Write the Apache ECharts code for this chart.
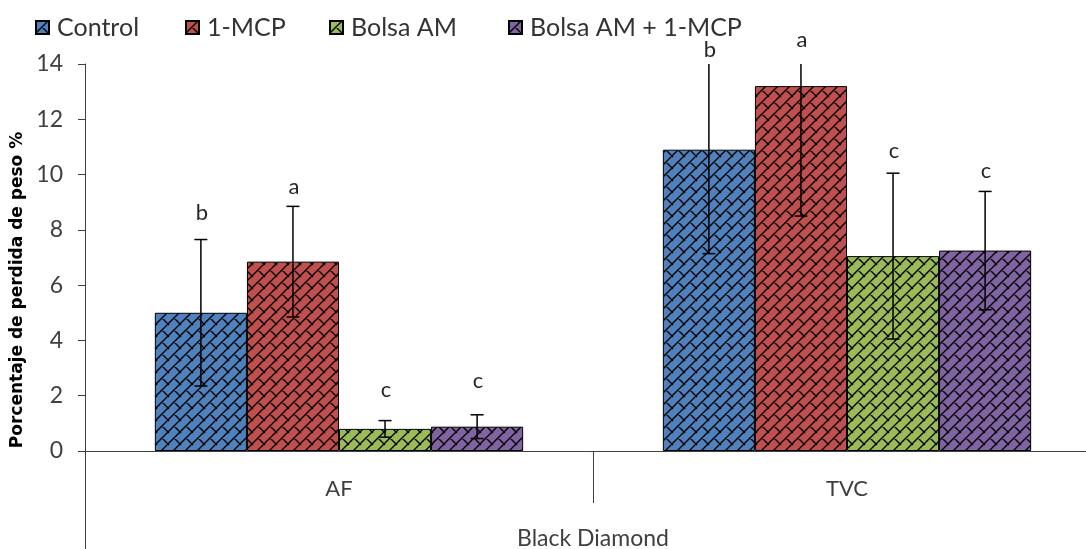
<!DOCTYPE html>
<html>
<head>
<meta charset="utf-8">
<script src="https://cdn.jsdelivr.net/npm/echarts@6/dist/echarts.min.js"></script>
<style>html,body{margin:0;padding:0;background:#fff;}#c{width:1086px;height:549px;}</style>
</head>
<body>
<div id="c"></div>
<script>
// ---- data ----
var categories = ['AF', 'TVC'];
var outerCategory = ['Black Diamond'];
var seriesNames = ['Control', '1-MCP', 'Bolsa AM', 'Bolsa AM + 1-MCP'];
var controlVals = [5.0, 10.9];
var mcpVals = [6.85, 13.2];
var bolsaVals = [0.8, 7.05];
var bolsaMcpVals = [0.88, 7.25];
var controlErr = [2.65, 3.76];
var mcpErr = [2.0, 4.7];
var bolsaErr = [0.3, 3.0];
var bolsaMcpErr = [0.43, 2.14];
var controlLetters = ['b', 'b'];
var mcpLetters = ['a', 'a'];
var bolsaLetters = ['c', 'c'];
var bolsaMcpLetters = ['c', 'c'];
// value at which each letter's baseline sits
var controlLetterPos = [8.36, 14.25];
var mcpLetterPos = [9.30, 14.62];
var bolsaLetterPos = [1.95, 10.6];
var bolsaMcpLetterPos = [2.28, 9.88];
var yTicks = {min: 0, max: 14, interval: 2};

// ---- styling ----
var colors = ['#4F81BD', '#C0504D', '#9BBB59', '#8064A2'];
var FONT = 'Lato';
var CAT_GAP = 0.275;

function makePattern(color) {
  var s = 12;
  var c = document.createElement('canvas');
  c.width = s; c.height = s;
  var g = c.getContext('2d');
  g.fillStyle = color; g.fillRect(0, 0, s, s);
  g.strokeStyle = '#000'; g.lineWidth = 1.4; g.lineCap = 'square';
  g.beginPath();
  g.moveTo(-1, s + 1); g.lineTo(s + 1, -1);
  g.moveTo(-2, 2); g.lineTo(2, -2);
  g.moveTo(s - 2, s + 2); g.lineTo(s + 2, s - 2);
  g.moveTo(s / 2, s / 2); g.lineTo(s + 1, s + 1);
  g.moveTo(-1, -1); g.lineTo(0.5, 0.5);
  g.stroke();
  return c;
}

var vals = [controlVals, mcpVals, bolsaVals, bolsaMcpVals];
var errs = [controlErr, mcpErr, bolsaErr, bolsaMcpErr];
var letters = [controlLetters, mcpLetters, bolsaLetters, bolsaMcpLetters];
var letterPos = [controlLetterPos, mcpLetterPos, bolsaLetterPos, bolsaMcpLetterPos];

var barSeries = seriesNames.map(function (n, i) {
  return {
    name: n, type: 'bar', data: vals[i],
    barGap: '0%', barCategoryGap: (CAT_GAP * 100) + '%',
    itemStyle: {color: {image: makePattern(colors[i]), repeat: 'repeat'}, borderColor: '#000', borderWidth: 1},
    emphasis: {disabled: true}, z: 2
  };
});

var errData = [];
seriesNames.forEach(function (n, si) {
  categories.forEach(function (c, ci) {
    errData.push([ci, si, vals[si][ci], errs[si][ci], letterPos[si][ci], letters[si][ci]]);
  });
});

var errSeries = {
  type: 'custom', name: 'err', clip: false, z: 5, silent: true,
  data: errData.map(function (d) { return [d[0], d[2]]; }),
  renderItem: function (params, api) {
    var d = errData[params.dataIndex];
    var ci = d[0], si = d[1], v = d[2], e = d[3], lp = d[4], letter = d[5];
    var bandW = api.size([1, 0])[0];
    var barW = bandW * (1 - CAT_GAP) / 4;
    var cx = api.coord([ci, 0])[0] + (si - 1.5) * barW;
    var hi = v + e, clipped = hi > yTicks.max;
    var yHi = api.coord([ci, Math.min(hi, yTicks.max)])[1];
    var yLo = api.coord([ci, v - e])[1];
    var cap = 6.5;
    var ls = {stroke: '#000', lineWidth: 1.5};
    var children = [
      {type: 'line', shape: {x1: cx, y1: yHi, x2: cx, y2: yLo}, style: ls},
      {type: 'line', shape: {x1: cx - cap, y1: yLo, x2: cx + cap, y2: yLo}, style: ls}
    ];
    if (!clipped) children.push({type: 'line', shape: {x1: cx - cap, y1: yHi, x2: cx + cap, y2: yHi}, style: ls});
    var yl = api.coord([ci, lp])[1];
    children.push({type: 'text', style: {text: letter, x: cx + 1, y: yl + 4, align: 'center', verticalAlign: 'bottom',
      fontFamily: FONT, fontSize: 22, fill: '#262626'}});
    return {type: 'group', children: children};
  }
};

var legends = seriesNames.map(function (n, i) {
  return {
    data: [n], left: [35, 185, 329, 508][i], top: 15, padding: 0,
    itemWidth: 13, itemHeight: 13, icon: 'rect', selectedMode: false,
    textStyle: {fontFamily: FONT, fontSize: 25, color: '#333', padding: [0, 0, 0, 3]}
  };
});

var chart = echarts.init(document.getElementById('c'), null, {renderer: 'canvas'});
chart.setOption({
  animation: false,
  backgroundColor: '#fff',
  legend: legends,
  grid: {left: 85, top: 64, width: 1016, bottom: 98, containLabel: false, outerBoundsMode: 'none'},
  xAxis: [{
    type: 'category', data: categories, position: 'bottom',
    axisLine: {show: true, lineStyle: {color: '#404040', width: 1}},
    axisTick: {show: true, length: 52, interval: 0, alignWithLabel: false, lineStyle: {color: '#404040'}},
    axisLabel: {margin: 27, fontFamily: FONT, fontSize: 22, color: '#404040'}
  }, {
    type: 'category', data: outerCategory, position: 'bottom',
    axisLine: {show: false},
    axisTick: {show: true, length: 98, interval: 0, lineStyle: {color: '#404040'}},
    axisLabel: {margin: 76, fontFamily: FONT, fontSize: 23, color: '#404040'}
  }],
  yAxis: {
    type: 'value', min: yTicks.min, max: yTicks.max, interval: yTicks.interval,
    axisLine: {show: true, lineStyle: {color: '#404040', width: 1}},
    axisTick: {show: true, length: 7, lineStyle: {color: '#404040'}},
    axisLabel: {margin: 22, fontFamily: FONT, fontSize: 23, color: '#404040'},
    splitLine: {show: false}
  },
  graphic: [{
    type: 'text', x: 18, y: 290, rotation: Math.PI / 2,
    style: {text: 'Porcentaje de perdida de peso %', align: 'center', verticalAlign: 'middle',
      fontFamily: 'DejaVu Sans', fontWeight: 'bold', fontSize: 17, fill: '#000'}
  }],
  series: barSeries.concat([errSeries])
});
</script>
</body>
</html>
